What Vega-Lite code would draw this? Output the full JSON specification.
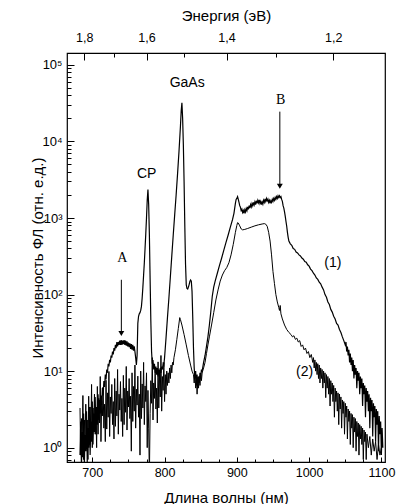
{
"$schema": "https://vega.github.io/schema/vega-lite/v6.json",
"width": 318, "height": 409,
"autosize": "none",
"padding": {"left": 67, "top": 53, "right": 12, "bottom": 42},
"background": "white",
"config": {
  "view": {"stroke": "black", "strokeWidth": 1.2},
  "font": "Liberation Sans",
  "axis": {"domain": false, "grid": false, "tickColor": "black", "labelColor": "black", "titleColor": "black", "labelFont": "Liberation Sans", "titleFont": "Liberation Sans", "labelFontSize": 12.5, "titleFontSize": 15, "titleFontWeight": "normal", "tickWidth": 1, "labelOverlap": false, "labelFlush": false}
},
"datasets": {
"c1": [
{"x":683,"y":0.8},{"x":684,"y":2.2},{"x":685,"y":0.55},{"x":686,"y":1.6},{"x":687,"y":0.75},{"x":688,"y":2.8},{"x":689,"y":0.6},{"x":690,"y":1.5},{"x":691,"y":0.9},{"x":692,"y":3.0},
{"x":693,"y":0.65},{"x":694,"y":1.8},{"x":695,"y":1.0},{"x":696,"y":3.4},{"x":697,"y":0.8},{"x":698,"y":2.2},{"x":699,"y":1.2},{"x":700,"y":4.0},{"x":701,"y":1.1},{"x":702,"y":2.8},
{"x":703,"y":1.6},{"x":704,"y":4.6},{"x":705,"y":1.5},{"x":706,"y":3.4},{"x":707,"y":2.0},{"x":708,"y":5.0},{"x":709,"y":2.3},{"x":710,"y":4.2},{"x":711,"y":2.8},{"x":712,"y":4.8},
{"x":713,"y":3.6},{"x":714,"y":6.0},{"x":715,"y":4.8},{"x":716,"y":7.4},{"x":717,"y":6.2},{"x":718,"y":9.0},{"x":719,"y":7.8},{"x":720,"y":10.5},{"x":721,"y":9.5},{"x":722,"y":12.5},
{"x":723,"y":11.5},{"x":724,"y":14},{"x":725,"y":13},{"x":726,"y":16},{"x":727,"y":15},{"x":728,"y":18},{"x":729,"y":16.5},{"x":730,"y":20},{"x":731,"y":18.5},{"x":732,"y":22},
{"x":733,"y":20},{"x":734,"y":24},{"x":735,"y":21},{"x":736,"y":24},{"x":737,"y":22},{"x":738,"y":25},{"x":739,"y":22},{"x":740,"y":25.5},{"x":741,"y":22},{"x":742,"y":25},
{"x":743,"y":22.5},{"x":744,"y":25.5},{"x":745,"y":22},{"x":746,"y":25},{"x":747,"y":21.5},{"x":748,"y":24.5},{"x":749,"y":21},{"x":750,"y":23.5},{"x":751,"y":20.5},{"x":752,"y":23},
{"x":753,"y":19.5},{"x":754,"y":22.5},{"x":755,"y":19},{"x":756,"y":22},{"x":757,"y":18.5},{"x":758,"y":21},{"x":759,"y":18},{"x":760,"y":15},{"x":761,"y":12},{"x":762,"y":16},
{"x":763,"y":42},{"x":764,"y":52},{"x":765,"y":56},{"x":766,"y":58},{"x":767,"y":62},{"x":768,"y":70},{"x":769,"y":90},{"x":770,"y":125},{"x":771,"y":180},{"x":772,"y":260},
{"x":773,"y":400},{"x":774,"y":620},{"x":775,"y":1000},{"x":776,"y":1700},{"x":777,"y":2350},{"x":778,"y":1500},{"x":779,"y":600},{"x":780,"y":160},{"x":781,"y":45},{"x":782,"y":18},
{"x":783,"y":12.5},{"x":784,"y":14},{"x":785,"y":10.5},{"x":786,"y":12.5},{"x":787,"y":9.5},{"x":788,"y":11.5},{"x":789,"y":9},{"x":790,"y":11},{"x":791,"y":8.5},{"x":792,"y":10.5},
{"x":793,"y":9},{"x":794,"y":11},{"x":795,"y":9.5},{"x":796,"y":11.5},{"x":797,"y":10.5},{"x":798,"y":12.5},{"x":799,"y":12},{"x":800,"y":15},{"x":801,"y":20},{"x":802,"y":27},
{"x":804,"y":50},{"x":806,"y":90},{"x":808,"y":170},{"x":810,"y":320},{"x":812,"y":600},{"x":814,"y":1100},{"x":816,"y":2000},{"x":818,"y":3800},{"x":820,"y":7500},{"x":822,"y":16000},
{"x":823,"y":25000},{"x":824,"y":32000},{"x":825,"y":20000},{"x":826,"y":9000},{"x":827,"y":3000},{"x":828,"y":800},{"x":829,"y":250},{"x":830,"y":135},{"x":831,"y":120},{"x":832,"y":118},
{"x":833,"y":125},{"x":834,"y":135},{"x":835,"y":148},{"x":836,"y":155},{"x":837,"y":150},{"x":838,"y":110},{"x":839,"y":50},{"x":840,"y":20},{"x":841,"y":11},{"x":842,"y":8},
{"x":843,"y":10},{"x":844,"y":6.5},{"x":845,"y":9},{"x":846,"y":6},{"x":847,"y":8.5},{"x":848,"y":7},{"x":849,"y":9.5},{"x":850,"y":8},{"x":851,"y":10.5},{"x":852,"y":10},
{"x":854,"y":13},{"x":856,"y":16},{"x":858,"y":21},{"x":860,"y":28},{"x":862,"y":40},{"x":864,"y":60},{"x":866,"y":95},{"x":868,"y":125},{"x":870,"y":150},{"x":873,"y":190},
{"x":876,"y":240},{"x":879,"y":300},{"x":882,"y":380},{"x":885,"y":480},{"x":888,"y":600},{"x":891,"y":760},{"x":894,"y":950},{"x":896,"y":1150},{"x":898,"y":1550},{"x":899,"y":1750},
{"x":900,"y":1800},{"x":901,"y":1900},{"x":902,"y":1750},{"x":903,"y":1600},{"x":904,"y":1450},{"x":905,"y":1380},{"x":906,"y":1250},{"x":907,"y":1300},{"x":908,"y":1180},{"x":909,"y":1250},
{"x":910,"y":1150},{"x":911,"y":1280},{"x":912,"y":1200},{"x":913,"y":1330},{"x":914,"y":1250},{"x":915,"y":1400},{"x":916,"y":1300},{"x":917,"y":1450},{"x":918,"y":1350},{"x":919,"y":1500},
{"x":920,"y":1400},{"x":921,"y":1550},{"x":922,"y":1450},{"x":923,"y":1600},{"x":924,"y":1480},{"x":925,"y":1620},{"x":926,"y":1500},{"x":927,"y":1680},{"x":928,"y":1550},{"x":929,"y":1700},
{"x":930,"y":1580},{"x":931,"y":1720},{"x":932,"y":1550},{"x":933,"y":1650},{"x":934,"y":1500},{"x":935,"y":1620},{"x":936,"y":1520},{"x":937,"y":1700},{"x":938,"y":1600},{"x":939,"y":1780},
{"x":940,"y":1650},{"x":941,"y":1800},{"x":942,"y":1680},{"x":943,"y":1760},{"x":944,"y":1600},{"x":945,"y":1700},{"x":946,"y":1550},{"x":947,"y":1680},{"x":948,"y":1600},{"x":949,"y":1750},
{"x":950,"y":1650},{"x":951,"y":1800},{"x":952,"y":1700},{"x":953,"y":1850},{"x":954,"y":1750},{"x":955,"y":1900},{"x":956,"y":1800},{"x":957,"y":1950},{"x":958,"y":1850},{"x":959,"y":1950},
{"x":960,"y":1850},{"x":961,"y":1900},{"x":962,"y":1750},{"x":963,"y":1650},{"x":964,"y":1450},{"x":965,"y":1350},{"x":966,"y":1200},{"x":967,"y":1050},{"x":968,"y":900},{"x":969,"y":780},
{"x":970,"y":650},{"x":971,"y":560},{"x":972,"y":500},{"x":974,"y":460},{"x":976,"y":440},{"x":978,"y":400},{"x":980,"y":390},{"x":982,"y":360},{"x":984,"y":350},{"x":986,"y":330},
{"x":988,"y":320},{"x":990,"y":300},{"x":992,"y":290},{"x":994,"y":270},{"x":996,"y":265},{"x":998,"y":245},{"x":1000,"y":235},{"x":1002,"y":215},{"x":1004,"y":205},{"x":1006,"y":190},
{"x":1008,"y":180},{"x":1010,"y":165},{"x":1012,"y":158},{"x":1014,"y":145},{"x":1016,"y":138},{"x":1018,"y":125},{"x":1020,"y":115},{"x":1022,"y":100},{"x":1024,"y":92},{"x":1026,"y":80},
{"x":1028,"y":74},{"x":1030,"y":64},{"x":1032,"y":59},{"x":1034,"y":52},{"x":1036,"y":48},{"x":1038,"y":42},{"x":1040,"y":40},{"x":1042,"y":35},{"x":1044,"y":32},{"x":1046,"y":28},
{"x":1048,"y":25},{"x":1050,"y":22},{"x":1051,"y":24},{"x":1052,"y":18},{"x":1053,"y":21},{"x":1054,"y":16},{"x":1055,"y":19},{"x":1056,"y":13},{"x":1057,"y":17},{"x":1058,"y":12},
{"x":1059,"y":15},{"x":1060,"y":10},{"x":1061,"y":14},{"x":1062,"y":8},{"x":1063,"y":12},{"x":1064,"y":9},{"x":1065,"y":11},{"x":1066,"y":6},{"x":1067,"y":10},{"x":1068,"y":7.5},
{"x":1069,"y":9.5},{"x":1070,"y":5},{"x":1071,"y":8.5},{"x":1072,"y":6},{"x":1073,"y":8},{"x":1074,"y":3.5},{"x":1075,"y":7},{"x":1076,"y":5},{"x":1077,"y":6.5},{"x":1078,"y":2.5},
{"x":1079,"y":6},{"x":1080,"y":4},{"x":1081,"y":5.5},{"x":1082,"y":3},{"x":1083,"y":5},{"x":1084,"y":1.8},{"x":1085,"y":4.5},{"x":1086,"y":3},{"x":1087,"y":4.2},{"x":1088,"y":1.4},
{"x":1089,"y":3.8},{"x":1090,"y":2.5},{"x":1091,"y":3.5},{"x":1092,"y":1.2},{"x":1093,"y":3.2},{"x":1094,"y":2},{"x":1095,"y":3},{"x":1096,"y":0.9},{"x":1097,"y":2.6},{"x":1098,"y":1.5},
{"x":1099,"y":2.2},{"x":1100,"y":0.8},{"x":1101,"y":1.8},{"x":1102,"y":1.0}
],
"c2": [
{"x":683,"y":3.3},{"x":684,"y":0.8},{"x":685,"y":2.4},{"x":686,"y":1.2},{"x":687,"y":4.8},{"x":688,"y":0.7},{"x":689,"y":2.3},{"x":690,"y":1.5},{"x":691,"y":3.7},{"x":692,"y":1.1},
{"x":693,"y":2.3},{"x":694,"y":0.7},{"x":695,"y":4.7},{"x":696,"y":1.1},{"x":697,"y":3.4},{"x":698,"y":1.6},{"x":699,"y":6.7},{"x":700,"y":1.0},{"x":701,"y":3.3},{"x":702,"y":2.1},
{"x":703,"y":5.0},{"x":704,"y":1.5},{"x":705,"y":3.0},{"x":706,"y":1.0},{"x":707,"y":6.3},{"x":708,"y":1.5},{"x":709,"y":4.4},{"x":710,"y":2.1},{"x":711,"y":8.5},{"x":712,"y":1.2},
{"x":713,"y":4.1},{"x":714,"y":2.6},{"x":715,"y":6.2},{"x":716,"y":1.8},{"x":717,"y":3.7},{"x":718,"y":1.2},{"x":719,"y":7.6},{"x":720,"y":1.75},{"x":721,"y":5.2},{"x":722,"y":2.5},
{"x":723,"y":9.9},{"x":724,"y":1.4},{"x":725,"y":4.6},{"x":726,"y":2.8},{"x":727,"y":6.7},{"x":728,"y":2.0},{"x":729,"y":4.0},{"x":730,"y":1.3},{"x":731,"y":8.0},{"x":732,"y":1.9},
{"x":733,"y":5.5},{"x":734,"y":2.6},{"x":735,"y":10.5},{"x":736,"y":1.5},{"x":737,"y":5.0},{"x":738,"y":3.1},{"x":739,"y":7.3},{"x":740,"y":2.2},{"x":741,"y":4.4},{"x":742,"y":1.4},
{"x":743,"y":8.8},{"x":744,"y":2.0},{"x":745,"y":6.0},{"x":746,"y":2.9},{"x":747,"y":11.5},{"x":748,"y":1.7},{"x":749,"y":5.5},{"x":750,"y":3.4},{"x":751,"y":8.0},{"x":752,"y":2.4},
{"x":753,"y":4.7},{"x":754,"y":0.9},{"x":755,"y":9.5},{"x":756,"y":2.2},{"x":757,"y":6.3},{"x":758,"y":3.0},{"x":759,"y":12.0},{"x":760,"y":1.8},{"x":761,"y":5.8},{"x":762,"y":3.6},
{"x":763,"y":8.6},{"x":764,"y":2.5},{"x":765,"y":5.0},{"x":766,"y":0.8},{"x":767,"y":10.0},{"x":768,"y":2.4},{"x":769,"y":6.8},{"x":770,"y":3.3},{"x":771,"y":13.0},{"x":772,"y":2.0},
{"x":773,"y":6.4},{"x":774,"y":4.0},{"x":775,"y":9.5},{"x":776,"y":1.0},{"x":777,"y":5.6},{"x":778,"y":1.8},{"x":779,"y":0.4},{"x":780,"y":2.8},{"x":781,"y":7.5},{"x":782,"y":3.8},
{"x":783,"y":15.0},{"x":784,"y":2.3},{"x":785,"y":7.0},{"x":786,"y":4.4},{"x":787,"y":11.0},{"x":788,"y":3.2},{"x":789,"y":6.0},{"x":790,"y":2.1},{"x":791,"y":13.2},{"x":792,"y":3.3},
{"x":793,"y":9.5},{"x":794,"y":4.6},{"x":795,"y":16.0},{"x":796,"y":3.0},{"x":797,"y":8.5},{"x":798,"y":5.6},{"x":799,"y":13.0},{"x":800,"y":4.0},{"x":801,"y":9},{"x":802,"y":5},
{"x":803,"y":10},{"x":804,"y":6.5},{"x":805,"y":9.5},{"x":806,"y":7},{"x":807,"y":11},{"x":808,"y":8},{"x":809,"y":12},{"x":810,"y":9.5},{"x":811,"y":13},{"x":812,"y":12},
{"x":813,"y":15},{"x":815,"y":19},{"x":817,"y":26},{"x":819,"y":36},{"x":821,"y":50},{"x":822,"y":47},{"x":824,"y":40},{"x":827,"y":30},{"x":830,"y":22},{"x":833,"y":16},
{"x":836,"y":12},{"x":838,"y":10},{"x":840,"y":9},{"x":841,"y":7},{"x":842,"y":9.5},{"x":843,"y":6},{"x":844,"y":8.5},{"x":845,"y":5},{"x":846,"y":8},{"x":847,"y":6},
{"x":848,"y":8.5},{"x":849,"y":6.5},{"x":850,"y":9},{"x":851,"y":7.5},{"x":852,"y":9.5},{"x":854,"y":11},{"x":856,"y":13},{"x":858,"y":17},{"x":860,"y":22},{"x":862,"y":28},
{"x":865,"y":40},{"x":868,"y":58},{"x":871,"y":85},{"x":874,"y":115},{"x":877,"y":150},{"x":880,"y":180},{"x":883,"y":205},{"x":886,"y":225},{"x":889,"y":260},{"x":892,"y":330},
{"x":895,"y":450},{"x":898,"y":650},{"x":900,"y":800},{"x":901,"y":870},{"x":902,"y":860},{"x":904,"y":790},{"x":906,"y":720},{"x":908,"y":700},{"x":911,"y":710},{"x":915,"y":730},
{"x":920,"y":760},{"x":925,"y":790},{"x":930,"y":815},{"x":935,"y":835},{"x":938,"y":845},{"x":940,"y":830},{"x":942,"y":780},{"x":944,"y":650},{"x":946,"y":500},{"x":948,"y":330},
{"x":950,"y":200},{"x":952,"y":140},{"x":954,"y":100},{"x":956,"y":80},{"x":958,"y":68},{"x":959,"y":62},{"x":960,"y":72},{"x":961,"y":56},{"x":963,"y":48},{"x":966,"y":40},
{"x":969,"y":35},{"x":972,"y":32},{"x":975,"y":30},{"x":977,"y":28},{"x":979,"y":29},{"x":981,"y":26},{"x":983,"y":27},{"x":985,"y":24},{"x":987,"y":25},{"x":989,"y":21},
{"x":991,"y":22},{"x":993,"y":19},{"x":995,"y":20},{"x":997,"y":17},{"x":999,"y":18},{"x":1001,"y":15},{"x":1003,"y":16.5},{"x":1005,"y":13},{"x":1006,"y":15},{"x":1007,"y":11},
{"x":1008,"y":14},{"x":1009,"y":10},{"x":1010,"y":13},{"x":1011,"y":9},{"x":1012,"y":12.5},{"x":1013,"y":8},{"x":1014,"y":12},{"x":1015,"y":7},{"x":1016,"y":11},{"x":1017,"y":8},
{"x":1018,"y":10.5},{"x":1019,"y":6},{"x":1020,"y":10},{"x":1021,"y":7},{"x":1022,"y":9.5},{"x":1023,"y":4.5},{"x":1024,"y":9},{"x":1025,"y":6},{"x":1026,"y":8.5},{"x":1027,"y":5},
{"x":1028,"y":8},{"x":1029,"y":3.5},{"x":1030,"y":7.5},{"x":1031,"y":5},{"x":1032,"y":7},{"x":1033,"y":4},{"x":1034,"y":6.5},{"x":1035,"y":2.5},{"x":1036,"y":6},{"x":1037,"y":4},
{"x":1038,"y":5.5},{"x":1039,"y":3},{"x":1040,"y":5.2},{"x":1041,"y":2},{"x":1042,"y":5},{"x":1043,"y":3.2},{"x":1044,"y":4.6},{"x":1045,"y":1.8},{"x":1046,"y":4.2},{"x":1047,"y":2.8},
{"x":1048,"y":4},{"x":1049,"y":1.5},{"x":1050,"y":3.8},{"x":1051,"y":2.5},{"x":1052,"y":3.5},{"x":1053,"y":1.3},{"x":1054,"y":3.2},{"x":1055,"y":2.2},{"x":1056,"y":3},{"x":1057,"y":1.1},
{"x":1058,"y":2.8},{"x":1059,"y":1.8},{"x":1060,"y":2.7},{"x":1061,"y":1.0},{"x":1062,"y":2.5},{"x":1063,"y":1.6},{"x":1064,"y":2.4},{"x":1065,"y":0.9},{"x":1066,"y":2.2},{"x":1067,"y":1.4},
{"x":1068,"y":2.1},{"x":1069,"y":0.8},{"x":1070,"y":2.0},{"x":1071,"y":1.3},{"x":1072,"y":1.9},{"x":1073,"y":1.1},{"x":1074,"y":1.8},{"x":1075,"y":0.7},{"x":1076,"y":1.7},{"x":1077,"y":1.2},
{"x":1078,"y":1.6},{"x":1079,"y":0.7},{"x":1080,"y":1.5},{"x":1082,"y":1.0},{"x":1084,"y":1.4},{"x":1086,"y":0.8},{"x":1088,"y":1.3},{"x":1090,"y":0.9},{"x":1092,"y":1.2},{"x":1094,"y":0.7},
{"x":1096,"y":1.1},{"x":1098,"y":0.8},{"x":1100,"y":1.0}
],
"labels": [
{"x":775.2,"y":3780,"t":"CP"},{"x":831.3,"y":58000,"t":"GaAs"},{"x":1032.9,"y":257,"t":"(1)"},{"x":993.8,"y":9.6,"t":"(2)"}
],
"serif": [
{"x":741.6,"y":300,"t":"A"},{"x":960.5,"y":35000,"t":"B"}
],
"arrows": [
{"x":740.2,"y":156,"y2":31},{"x":959.5,"y":24500,"y2":2600}
]
},
"layer": [
{
  "data": {"name": "c2"},
  "mark": {"type": "line", "stroke": "black", "strokeWidth": 1.0, "clip": true},
  "encoding": {
    "x": {"field": "x", "type": "quantitative", "scale": {"domain": [665, 1105], "nice": false, "zero": false},
      "axis": {"orient": "bottom", "title": "Длина волны (нм)", "values": [700,800,900,1000,1100], "format": "d",
        "tickSize": 5, "offset": -5, "labelPadding": 4, "titleY": 40, "titleBaseline": "middle"}},
    "y": {"field": "y", "type": "quantitative", "scale": {"type": "log", "domain": [0.65, 143000], "nice": false},
      "axis": {"orient": "left", "title": "Интенсивность ФЛ (отн. е.д.)",
        "values": [1,10,100,1000,10000,100000],
        "labelExpr": "datum.value == 1 ? '10⁰' : datum.value == 10 ? '10¹' : datum.value == 100 ? '10²' : datum.value == 1000 ? '10³' : datum.value == 10000 ? '10⁴' : '10⁵'",
        "labelFontSize": 13,
        "tickSize": 7, "offset": -7, "labelPadding": 5, "titleX": -37, "titleY": 204.5, "titleBaseline": "middle", "titleAlign": "center"}}
  }
},
{
  "data": {"name": "c1"},
  "mark": {"type": "line", "stroke": "black", "strokeWidth": 1.2, "clip": true},
  "encoding": {
    "x": {"field": "x", "type": "quantitative",
      "axis": {"orient": "bottom", "title": null, "labels": false, "values": [675,725,750,775,825,850,875,925,950,975,1025,1050,1075], "tickSize": 3, "offset": -3}},
    "y": {"field": "y", "type": "quantitative",
      "axis": {"orient": "left", "title": null, "labels": false,
        "values": [0.7,0.8,0.9,2,3,4,5,6,7,8,9,20,30,40,50,60,70,80,90,200,300,400,500,600,700,800,900,2000,3000,4000,5000,6000,7000,8000,9000,20000,30000,40000,50000,60000,70000,80000,90000],
        "tickSize": 4, "offset": -4}}
  }
},
{
  "data": {"name": "arrows"},
  "mark": {"type": "rule", "stroke": "black", "strokeWidth": 1},
  "encoding": {
    "x": {"field": "x", "type": "quantitative", "axis": null},
    "y": {"field": "y", "type": "quantitative", "axis": null},
    "y2": {"field": "y2"}
  }
},
{
  "data": {"name": "arrows"},
  "mark": {"type": "point", "shape": "triangle-down", "filled": true, "color": "black", "size": 35, "opacity": 1},
  "encoding": {
    "x": {"field": "x", "type": "quantitative", "axis": null},
    "y": {"field": "y2", "type": "quantitative", "axis": null}
  }
},
{
  "data": {"name": "serif"},
  "mark": {"type": "text", "font": "Liberation Serif", "fontSize": 14, "align": "center", "baseline": "middle", "color": "black"},
  "encoding": {
    "x": {"field": "x", "type": "quantitative",
      "axis": {"orient": "top", "title": null, "labels": false, "values": [729.41, 826.67, 953.85], "tickSize": 4, "offset": -4}},
    "y": {"field": "y", "type": "quantitative", "axis": null},
    "text": {"field": "t"}
  }
},
{
  "data": {"name": "labels"},
  "mark": {"type": "text", "font": "Liberation Sans", "fontSize": 14, "align": "center", "baseline": "middle", "color": "black"},
  "encoding": {
    "x": {"field": "x", "type": "quantitative",
      "axis": {"orient": "top", "title": "Энергия (эВ)", "values": [688.89, 775, 885.71, 1033.33],
        "labelExpr": "datum.value == 688.89 ? '1,8' : datum.value == 775 ? '1,6' : datum.value == 885.71 ? '1,4' : '1,2'",
        "tickSize": 7, "offset": -7, "labelPadding": 9, "titleY": -45, "titleBaseline": "middle"}},
    "y": {"field": "y", "type": "quantitative", "axis": null},
    "text": {"field": "t"}
  }
}
],
"resolve": {"axis": {"x": "independent", "y": "independent"}}
}
